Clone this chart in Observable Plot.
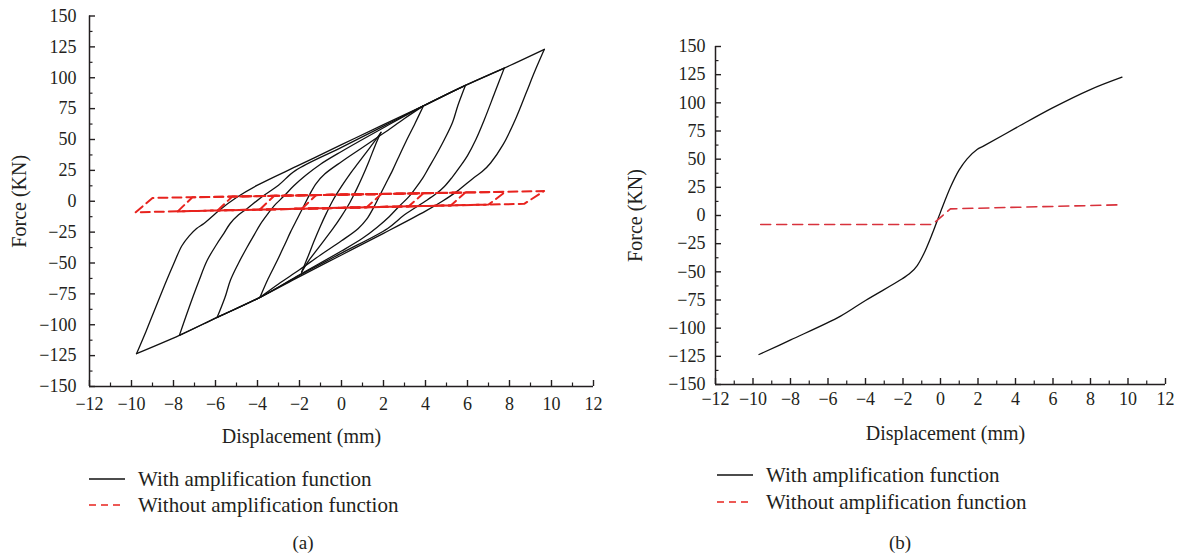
<!DOCTYPE html>
<html><head><meta charset="utf-8">
<script src="https://cdn.jsdelivr.net/npm/d3@7"></script>
<script src="https://cdn.jsdelivr.net/npm/@observablehq/plot@0.6"></script>
<style>
body{margin:0;background:#fff;}
#root{position:relative;width:1184px;height:559px;overflow:hidden;font-family:"Liberation Serif","Times New Roman",serif;color:#231f20;background:#fff;}
.panel{position:absolute;top:0;}
.leg{position:absolute;height:24px;display:flex;align-items:center;font-size:21px;white-space:nowrap;}
.leg svg{margin-right:13px;}
.cap{position:absolute;font-size:19px;transform:translateX(-50%);}
</style></head><body><div id="root"></div>
<script>
// ---------- tick values ----------
const xTicks = [-12,-10,-8,-6,-4,-2,0,2,4,6,8,10,12];
const xMinor = [-11,-9,-7,-5,-3,-1,1,3,5,7,9,11];
const yTicks = [-150,-125,-100,-75,-50,-25,0,25,50,75,100,125,150];
const yMinor = [-137.5,-112.5,-87.5,-62.5,-37.5,-12.5,12.5,37.5,62.5,87.5,112.5,137.5];

// ---------- panel (a): with amplification function (hysteresis branches) ----------
const load1 = [[-1.9,-57.5],[-1.6,-45],[-1.3,-32],[-1.0,-20],[-0.7,-9],[-0.4,1],[0,12],[0.4,22],[0.8,31],[1.2,40],[1.6,49],[1.88,55.8]];
const load2 = [[-3.88,-77.8],[-3.5,-63],[-3.06,-48],[-2.7,-35],[-2.43,-25],[-2.1,-14],[-1.8,-4],[-1.5,6],[-1.2,14.5],[-0.8,22],[0,32],[1,43.5],[2,55],[3,67],[3.9,77.2]];
const load3 = [[-5.92,-94],[-5.55,-78],[-5.29,-64],[-4.9,-50],[-4.49,-37],[-4.15,-27],[-3.86,-18.5],[-3.5,-10],[-3.2,-3.5],[-2.75,4],[-2.27,12.5],[-1.7,21],[-1,30],[0,40.3],[2,59.5],[3.9,77.2],[5.9,93.8]];
const load4 = [[-7.72,-108.6],[-7.3,-88],[-6.8,-65],[-6.4,-48],[-5.95,-35],[-5.6,-26],[-5.3,-18],[-4.9,-11],[-4.5,-6],[-3.8,3.5],[-3,13],[-2.2,24.8],[0,43.6],[2,60.8],[3.9,77.2],[5.9,93.8],[7.75,107.8]];
const load5 = [[-9.76,-123.4],[-9.3,-105],[-8.9,-88],[-8.4,-67],[-8.0,-51],[-7.6,-36],[-7.25,-28],[-6.9,-22],[-6.55,-18],[-5.8,-7],[-5.0,3],[-4.0,13],[-2,29.4],[0,45.8],[2,62],[3.9,77.2],[5.9,93.8],[7.75,107.8],[9.66,123]];
const unload1 = [[1.88,55.8],[1.6,45],[1.3,32],[1.0,20],[0.7,9],[0.4,-1],[0,-12],[-0.4,-22],[-0.8,-31],[-1.2,-40],[-1.6,-49],[-1.9,-57.5]];
const unload2 = [[3.9,77.2],[3.5,63],[3.06,48],[2.7,35],[2.43,25],[2.1,14],[1.8,4],[1.5,-6],[1.2,-14.5],[0.8,-22],[0,-32],[-1,-43.5],[-2,-55.5],[-3,-67],[-3.88,-77.8]];
const unload3 = [[5.9,93.8],[5.55,78],[5.29,64],[4.9,50],[4.49,37],[4.15,27],[3.86,18.5],[3.5,10],[3.2,3.5],[2.75,-4],[2.27,-12.5],[1.7,-21],[1,-30],[0,-40.3],[-2,-59.5],[-3.88,-77.8],[-5.92,-94]];
const unload4 = [[7.75,107.8],[7.3,88],[6.8,66],[6.4,50],[6.0,37],[5.6,27],[5.25,19],[4.9,12],[4.5,6],[3.9,-1],[3,-11],[2.2,-22],[0,-42],[-2,-60],[-3.88,-77.8],[-5.92,-94],[-7.72,-108.6]];
const unload5 = [[9.66,123],[9.2,105],[8.8,88],[8.3,67],[7.7,46],[7.1,31],[6.7,24],[6.3,19],[5.5,8],[4.8,0],[4,-8],[2,-26],[0,-43.5],[-2,-61],[-3.88,-77.8],[-5.92,-94],[-7.72,-108.6],[-9.76,-123.4]];

// ---------- panel (a): without amplification function (thin loops) ----------
const redLoop1 = [[-1.9,-6.2],[-1.2,5.0],[1.9,5.8],[1.2,-4.9],[-1.9,-6.2]];
const redLoop2 = [[-3.9,-6.8],[-3.2,4.4],[3.9,6.4],[3.2,-4.1],[-3.9,-6.8]];
const redLoop3 = [[-5.9,-7.5],[-5.2,3.8],[5.9,7.0],[5.2,-3.4],[-5.9,-7.5]];
const redLoop4 = [[-7.8,-8.2],[-7.1,3.2],[7.8,7.6],[7.0,-2.7],[-7.8,-8.2]];
const redLoop5 = [[-9.8,-8.9],[-9.0,2.7],[9.65,8.3],[8.7,-2.1],[-9.8,-8.9]];

// ---------- panel (b): skeleton curves ----------
const bWithX = [-9.68,-7.99,-5.33,-4.0,-2.04,-1.6,-1.24,-0.89,-0.44,0,0.53,0.98,1.42,1.95,2.31,4.0,5.95,7.99,9.68];
const bWithY = [-123.4,-110.4,-89.3,-75.4,-56.2,-50.9,-44.4,-34,-16.3,3,25,40,50.3,58.6,61.8,77.5,95.3,111.8,122.8];
const bWithoutX = [-9.59,-0.44,0.53,9.68];
const bWithoutY = [-8,-8,5.9,9.5];

const INK = "#231f20";
const FONT = '"Liberation Serif", "Times New Roman", serif';
const fmt = d => d < 0 ? "\u2212" + Math.abs(d) : String(d);

function toRows(branches) {
  const rows = [];
  for (const [id, pts] of branches) pts.forEach(([x, y]) => rows.push({id, x, y}));
  return rows;
}

function frameMarks(fw, fh, xPad, yPad) {
  return [
    Plot.ruleX([-12], {stroke: INK, strokeWidth: 1.5}),
    Plot.ruleY([-150], {stroke: INK, strokeWidth: 1.5}),
    Plot.tickX(xTicks, {x: d => d, insetTop: fh - 6, stroke: INK, strokeWidth: 1.4}),
    Plot.tickX(xMinor, {x: d => d, insetTop: fh - 3.5, stroke: INK, strokeWidth: 1.2}),
    Plot.tickY(yTicks, {y: d => d, insetRight: fw - 6, stroke: INK, strokeWidth: 1.4}),
    Plot.tickY(yMinor, {y: d => d, insetRight: fw - 3.5, stroke: INK, strokeWidth: 1.2}),
    Plot.axisX(xTicks, {tickSize: 0, tickPadding: xPad, tickFormat: fmt, fontSize: 18, fill: INK, label: null}),
    Plot.axisY(yTicks, {tickSize: 0, tickPadding: yPad, tickFormat: fmt, fontSize: 18, fill: INK, label: null})
  ];
}

const root = document.getElementById("root");

// ----- panel (a) -----
{
  const W = 600, H = 440, ml = 89, mr = 7, mt = 15.5, mb = 54;
  const blackRows = toRows([["L1",load1],["L2",load2],["L3",load3],["L4",load4],["L5",load5],
    ["U1",unload1],["U2",unload2],["U3",unload3],["U4",unload4],["U5",unload5]]);
  const redRows = toRows([["R1",redLoop1],["R2",redLoop2],["R3",redLoop3],["R4",redLoop4],["R5",redLoop5]]);
  const fw = W - ml - mr, fh = H - mt - mb;
  const svg = Plot.plot({
    width: W, height: H, marginLeft: ml, marginRight: mr, marginTop: mt, marginBottom: mb,
    style: {fontFamily: FONT, background: "transparent", overflow: "visible"},
    x: {domain: [-12, 12]}, y: {domain: [-150, 150]},
    marks: [
      ...frameMarks(fw, fh, 11, 13),
      Plot.line(blackRows, {x: "x", y: "y", z: "id", stroke: "#111", strokeWidth: 1.3, curve: "catmull-rom"}),
      Plot.line(redRows, {x: "x", y: "y", z: "id", stroke: "#e8231e", strokeWidth: 2, strokeDasharray: "9,5"}),
      Plot.text(["Force (KN)"], {text: d => d, frameAnchor: "left", dx: -70, rotate: -90, textAnchor: "middle", lineAnchor: "middle", fontSize: 20, fill: INK}),
      Plot.text(["Displacement (mm)"], {text: d => d, frameAnchor: "bottom", dx: -40, dy: 50, textAnchor: "middle", lineAnchor: "middle", fontSize: 20, fill: INK})
    ]
  });
  svg.classList.add("panel"); svg.style.left = "0px";
  root.appendChild(svg);
}

// ----- panel (b) -----
{
  const W = 584, H = 440, ml = 115, mr = 19, mt = 46, mb = 56;
  const fw = W - ml - mr, fh = H - mt - mb;
  const withRows = bWithX.map((x, i) => ({x, y: bWithY[i]}));
  const withoutRows = bWithoutX.map((x, i) => ({x, y: bWithoutY[i]}));
  const svg = Plot.plot({
    width: W, height: H, marginLeft: ml, marginRight: mr, marginTop: mt, marginBottom: mb,
    style: {fontFamily: FONT, background: "transparent", overflow: "visible"},
    x: {domain: [-12, 12]}, y: {domain: [-150, 150]},
    marks: [
      ...frameMarks(fw, fh, 8, 10),
      Plot.line(withRows, {x: "x", y: "y", stroke: "#111", strokeWidth: 1.3, curve: "catmull-rom"}),
      Plot.line(withoutRows, {x: "x", y: "y", stroke: "#d8323c", strokeWidth: 1.6, strokeDasharray: "10,6"}),
      Plot.text(["Force (KN)"], {text: d => d, frameAnchor: "left", dx: -80, rotate: -90, textAnchor: "middle", lineAnchor: "middle", fontSize: 20, fill: INK}),
      Plot.text(["Displacement (mm)"], {text: d => d, frameAnchor: "bottom", dx: 5, dy: 49, textAnchor: "middle", lineAnchor: "middle", fontSize: 20, fill: INK})
    ]
  });
  svg.classList.add("panel"); svg.style.left = "600px";
  root.appendChild(svg);
}

// ----- legends and captions -----
function legendItem(left, cy, label, color, dash) {
  const d = document.createElement("div");
  d.className = "leg";
  d.style.left = left + "px";
  d.style.top = (cy - 12) + "px";
  d.innerHTML = `<svg width="36" height="6"><line x1="0" x2="36" y1="3" y2="3" stroke="${color}" stroke-width="1.6" ${dash ? 'stroke-dasharray="7,5"' : ''}/></svg><span>${label}</span>`;
  root.appendChild(d);
}
legendItem(89, 479, "With amplification function", "#111", false);
legendItem(89, 505, "Without amplification function", "#e8231e", true);
legendItem(717, 475, "With amplification function", "#111", false);
legendItem(717, 502, "Without amplification function", "#e8231e", true);

function caption(cx, cy, t) {
  const d = document.createElement("div");
  d.className = "cap"; d.textContent = t;
  d.style.left = cx + "px"; d.style.top = (cy - 11) + "px";
  root.appendChild(d);
}
caption(303, 543, "(a)");
caption(900, 543, "(b)");
</script></body></html>
